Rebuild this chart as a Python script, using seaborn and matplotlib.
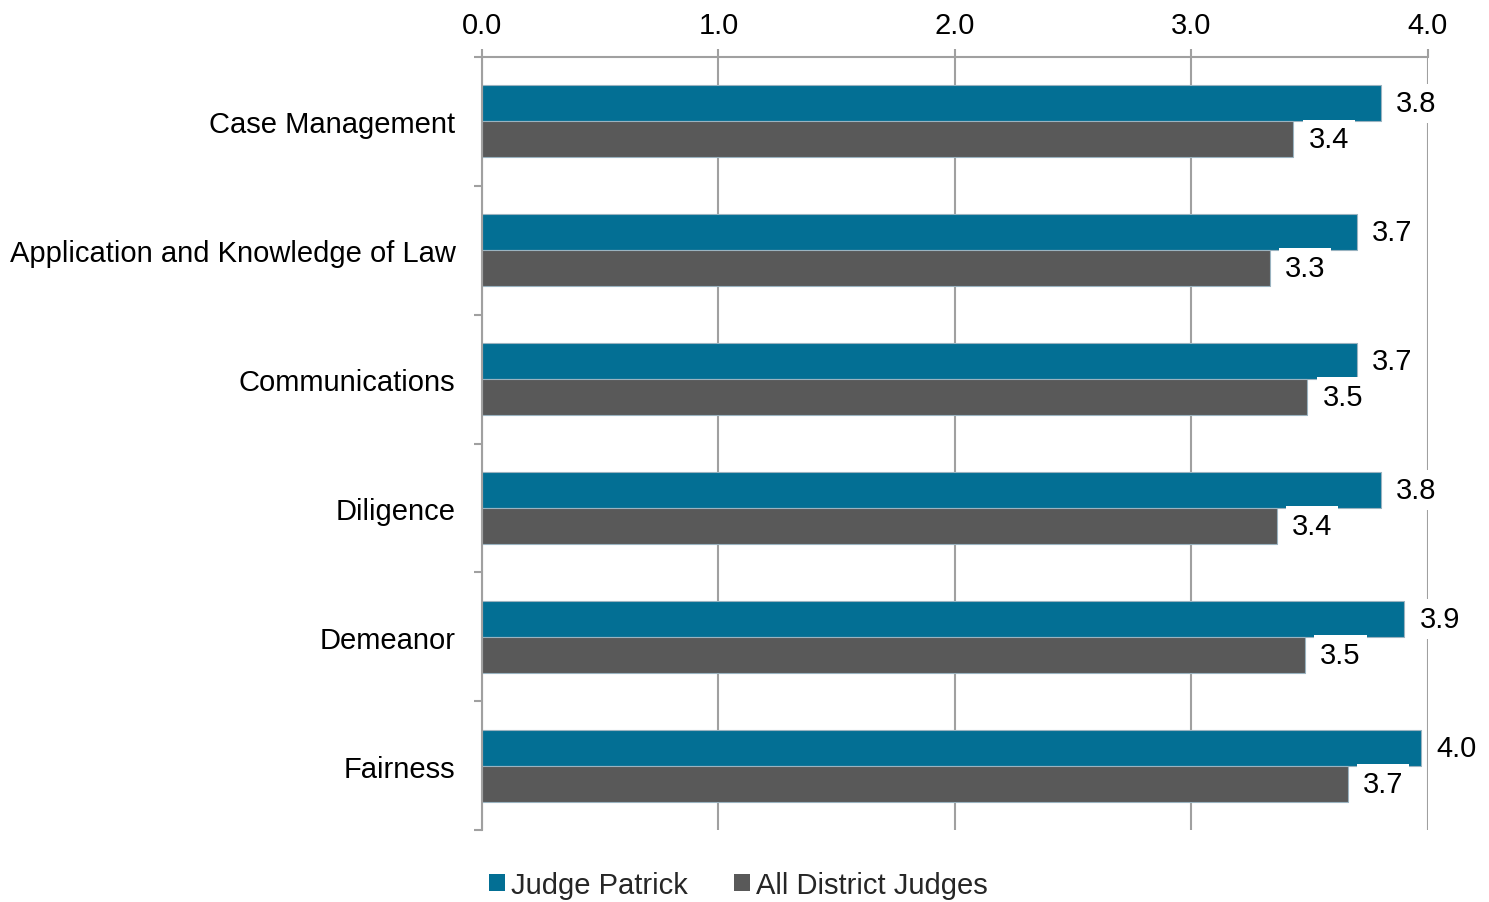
import pandas as pd
import seaborn as sns
import matplotlib.pyplot as plt
from matplotlib.patches import Patch
from matplotlib.ticker import FixedLocator

categories = ["Case Management", "Application and Knowledge of Law", "Communications",
              "Diligence", "Demeanor", "Fairness"]
judge_patrick = [3.80, 3.70, 3.70, 3.80, 3.90, 3.97]
all_district = [3.43, 3.33, 3.49, 3.36, 3.48, 3.66]
groups = ["Judge Patrick", "All District Judges"]
colors = ["#036f94", "#595959"]

df = pd.DataFrame({
    "category": categories * 2,
    "score": judge_patrick + all_district,
    "group": [groups[0]] * len(categories) + [groups[1]] * len(categories),
})

sns.set_style("white")
plt.rcParams["font.family"] = ["Liberation Sans", "DejaVu Sans"]
fs = 21

fig = plt.figure(figsize=(14.89, 9.03), dpi=100)
ax = fig.add_axes([0.3237, 0.0797, 0.9590 - 0.3237, 0.9358 - 0.0797])

sns.barplot(data=df, x="score", y="category", hue="group", orient="h",
            palette=colors, saturation=1, width=0.56, ax=ax,
            edgecolor="#9ab3c0", linewidth=0.8, legend=False, zorder=2)

for cont in ax.containers:
    ax.bar_label(cont, fmt="%.1f", padding=11, fontsize=fs, color="black",
                 bbox=dict(boxstyle="square,pad=0.2", fc="white", ec="none"), zorder=4)

ax.set_xlim(0, 4)
ax.set_ylim(5.5, -0.5)
ax.xaxis.tick_top()
ax.set_xticks([0, 1, 2, 3, 4])
ax.set_xticklabels(["0.0", "1.0", "2.0", "3.0", "4.0"])
ax.tick_params(axis="x", which="major", top=True, direction="out", length=6,
               width=1.5, color="#a0a0a0", labelsize=fs, pad=7, labelcolor="black")
ax.tick_params(axis="y", which="major", length=0, labelsize=fs, pad=19, labelcolor="black")
ax.yaxis.set_minor_locator(FixedLocator([-0.5, 0.5, 1.5, 2.5, 3.5, 4.5, 5.5]))
ax.tick_params(axis="y", which="minor", left=True, direction="out", length=6,
               width=1.5, color="#a0a0a0")
ax.grid(axis="x", color="#a0a0a0", linewidth=1.5, zorder=0)
ax.set_axisbelow(True)
ax.set_xlabel("")
ax.set_ylabel("")

for side in ["right", "bottom"]:
    ax.spines[side].set_visible(False)
for side in ["top", "left"]:
    ax.spines[side].set_color("#a0a0a0")
    ax.spines[side].set_linewidth(1.5)

handles = [Patch(facecolor=c, edgecolor="none") for c in colors]
fig.legend(handles, groups, loc="center", bbox_to_anchor=(0.496, 0.019), ncol=2,
           frameon=False, fontsize=fs, handlelength=0.55, handleheight=0.55,
           handletextpad=0.2, columnspacing=1.6)

fig.savefig("out.png", dpi=100)
